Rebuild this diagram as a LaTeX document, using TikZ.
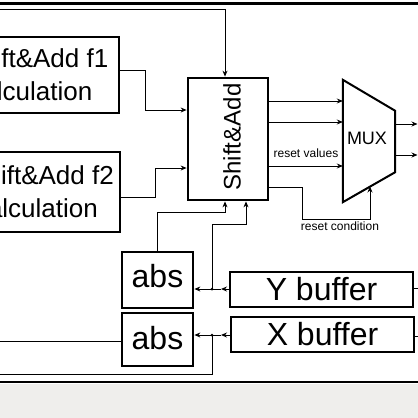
\documentclass[tikz,border=0pt]{standalone}
\usepackage{fontspec}
\setmainfont{Liberation Sans}
\usetikzlibrary{arrows.meta}
\definecolor{pagegray}{HTML}{EFEEEC}
\begin{document}
\begin{tikzpicture}[x=1pt,y=-1pt,
  arr/.style={-{Stealth[length=6pt,width=5pt]}},
  wire/.style={line width=0.9pt},
  thickbox/.style={draw,line width=2.8pt,inner sep=0pt},
  bufbox/.style={draw,line width=2pt,inner sep=0pt,minimum width=183pt,minimum height=35pt,font=\fontsize{32}{36}\selectfont},
  absbox/.style={thickbox,minimum width=71pt,font=\fontsize{32}{36}\selectfont},
  calcbox/.style={thickbox,align=left,font=\fontsize{26}{33}\selectfont},
  small/.style={font=\fontsize{12}{14}\selectfont,inner sep=0pt},
  dot/.style={circle,fill,inner sep=0pt,minimum size=3pt}
]
\useasboundingbox (0,0) rectangle (418,418);
\clip (0,0) rectangle (418,418);
\fill[white] (0,0) rectangle (418,384);
\fill[pagegray] (0,384) rectangle (418,418);

% frame lines
\coordinate (tl) at (-5,3.3);
\coordinate (tr) at (425,3.3);
\coordinate (bl) at (-5,382);
\coordinate (br) at (425,382);
\draw[line width=2.6pt] (tl) -- (tr);
\draw[line width=2.6pt] (bl) -- (br);

% calculation boxes
\node[calcbox,minimum width=166pt,minimum height=76pt] (f1) at (36,75) {Shift\&Add f1\\Calculation};
\node[calcbox,minimum width=157pt,minimum height=80pt] (f2) at (41.5,192) {Shift\&Add f2\\Calculation};

% Shift&Add
\node[thickbox,minimum width=80pt,minimum height=122pt] (sa) at (228,139) {};
\node[rotate=90,inner sep=0pt,font=\fontsize{24}{28}\selectfont] (satext) at (232,137) {Shift\&Add};

% MUX
\node[minimum width=52pt,minimum height=122pt,inner sep=0pt] (mux) at (369,141) {};
\draw[line width=2pt,line join=miter] (mux.north west) -- ([yshift=-31pt]mux.north east)
  -- ([yshift=30pt]mux.south east) -- (mux.south west) -- cycle;
\node[inner sep=0pt,font=\fontsize{18}{20}\selectfont] (muxlabel) at (367,138.5) {MUX};

% abs and buffers
\node[absbox,minimum height=56pt,text depth=8pt] (abs1) at (157.5,280) {abs};
\node[absbox,minimum height=53pt,text depth=3pt] (abs2) at (157.5,339.5) {abs};
\node[bufbox] (ybuf) at (321.5,289.5) {Y buffer};
\node[bufbox] (xbuf) at (322.5,334.5) {X buffer};

% labels
\node[small] (rv) at (306,153) {reset values};
\node[small] (rc) at (340,226) {reset condition};

% top feedback into Shift&Add
\coordinate (topin) at (-5,9);
\draw[wire,arr] (topin) -- (225,9) -- (225,0 |- sa.north);

% calculation outputs
\draw[wire,arr] (f1.east |- 0,70) -- (145,70) -- (145,110) -- (sa.west |- 0,110);
\draw[wire,arr] (f2.east |- 0,197) -- (155,197) -- (155,168) -- (sa.west |- 0,168);

% Shift&Add -> MUX
\draw[wire,arr] (sa.east |- 0,101) -- (mux.west |- 0,101);
\draw[wire,arr] (sa.east |- 0,122) -- (mux.west |- 0,122);
\draw[wire,arr] (sa.east |- 0,166) -- (mux.west |- 0,166);
\coordinate (muxin) at (370,186.5);
\draw[wire,arr] (sa.east |- 0,187) -- (302,187) -- (302,219) -- (370,219) -- (muxin);

% MUX outputs
\coordinate (o1) at (417.5,124);
\coordinate (o2) at (417.5,155);
\draw[wire,arr] (mux.east |- o1) -- (o1);
\draw[wire,arr] (mux.east |- o2) -- (o2);

% buffer inputs from right
\coordinate (yin) at (425,288);
\coordinate (xin) at (425,336);
\draw[wire] (ybuf.east |- yin) -- (yin);
\draw[wire] (xbuf.east |- xin) -- (xin);

% Y buffer path
\coordinate (jy) at (212,289);
\coordinate (ya) at (221,289);
\draw[wire,arr] (ybuf.west |- jy) -- (ya);
\draw[wire] (ya) -- (jy);
\draw[wire,arr] (jy) -- (abs1.east |- jy);
\node[dot] at (jy) {};
\draw[wire,arr] (jy) |- (246,224) -- (246,0 |- sa.south);

% abs1 -> Shift&Add
\draw[wire,arr] (abs1.north) |- (225,212) -- (225,0 |- sa.south);

% X buffer path
\coordinate (jx) at (212,335);
\coordinate (xa) at (221,335);
\draw[wire,arr] (xbuf.west |- jx) -- (xa);
\draw[wire] (xa) -- (jx);
\draw[wire,arr] (jx) -- (abs2.east |- jx);
\node[dot] at (jx) {};
\coordinate (xout) at (-5,374);
\draw[wire] (jx) |- (xout);

% abs2 output to left
\coordinate (absout) at (-5,341);
\draw[wire] (abs2.west |- absout) -- (absout);
\end{tikzpicture}
\end{document}
